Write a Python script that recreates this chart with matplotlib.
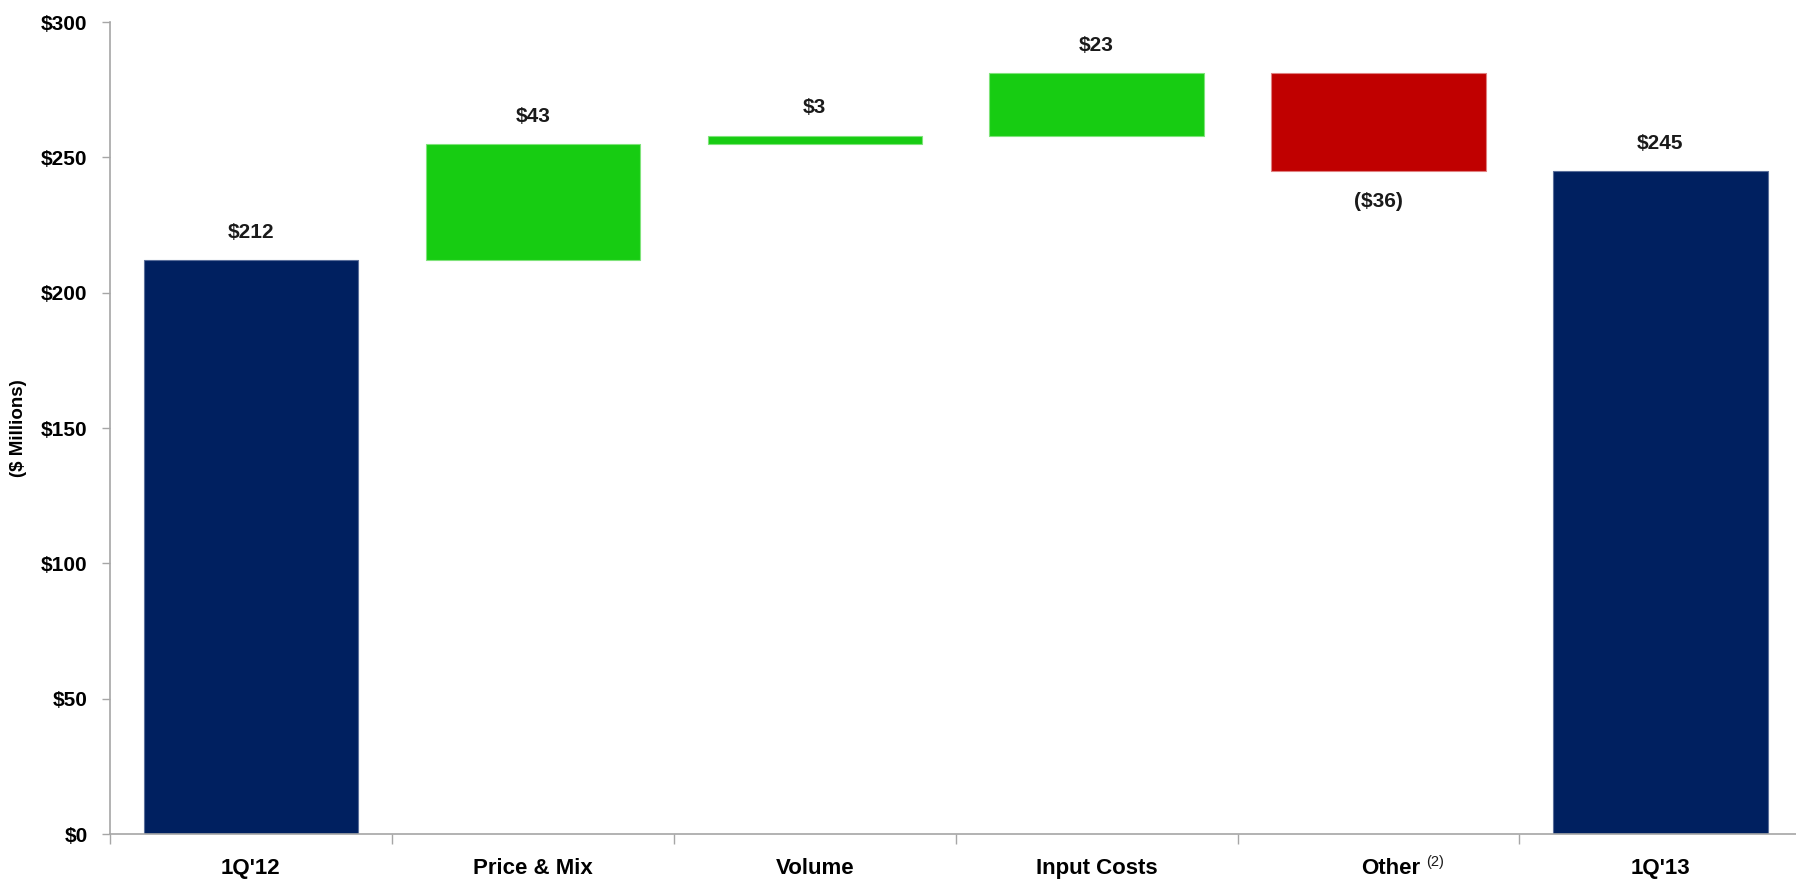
import matplotlib
matplotlib.use('Agg')
import numpy as np
import matplotlib.pyplot as plt
from matplotlib import font_manager
from matplotlib.transforms import ScaledTranslation

# Waterfall data ($ Millions)
categories = ["1Q'12", "Price & Mix", "Volume", "Input Costs", "Other", "1Q'13"]
changes = [212, 43, 3, 23, -36, 245]
kinds = ['total', 'delta', 'delta', 'delta', 'delta', 'total']
value_labels = ['$212', '$43', '$3', '$23', '($36)', '$245']
yticks = [0, 50, 100, 150, 200, 250, 300]
ytick_labels = ['$0', '$50', '$100', '$150', '$200', '$250', '$300']

navy = '#002060'
green = '#17CC12'
red = '#C00000'
axis_gray = '#A6A6A6'

installed = {f.name for f in font_manager.fontManager.ttflist}
fams = [f for f in ['Liberation Sans Narrow', 'Liberation Sans', 'DejaVu Sans'] if f in installed]
plt.rcParams['font.family'] = fams
plt.rcParams['font.weight'] = 'bold'

# bottoms / heights for the floating bars
bottoms, heights, colors = [], [], []
running = 0
for val, kind in zip(changes, kinds):
    if kind == 'total':
        bottoms.append(0)
        heights.append(val)
        colors.append(navy)
        running = val
    else:
        start = running
        running = running + val
        bottoms.append(min(start, running))
        heights.append(abs(val))
        colors.append(green if val >= 0 else red)

fig = plt.figure(figsize=(17.96, 8.82), dpi=100)
ax = fig.add_axes([0.0612, 0.0544, 0.9418, 0.9206])

x = np.arange(len(categories))
edge = ['#5A6E9A' if c == navy else ('#7FE37A' if c == green else '#E08080') for c in colors]
ax.bar(x, heights, bottom=bottoms, width=0.76, color=colors, edgecolor=edge, linewidth=0.8)

# value labels
for i, (b, h, lab) in enumerate(zip(bottoms, heights, value_labels)):
    if changes[i] < 0:
        ax.annotate(lab, xy=(i, b), xytext=(0, -22), textcoords='offset points',
                    ha='center', va='center', fontsize=15, fontweight='bold', color='#1a1a1a')
    else:
        ax.annotate(lab, xy=(i, b + h), xytext=(0, 20), textcoords='offset points',
                    ha='center', va='center', fontsize=15, fontweight='bold', color='#1a1a1a')

ax.set_xlim(-0.5, len(categories) - 0.5)
ax.set_ylim(0, 300)

ax.set_yticks(yticks)
ax.set_yticklabels(ytick_labels, fontsize=15, fontweight='bold')
ax.tick_params(axis='y', length=6, width=1, color=axis_gray, pad=10)

ax.set_xticks(x)
ax.set_xticklabels(categories, fontsize=16, fontweight='bold')
ax.tick_params(axis='x', which='major', length=0, pad=17)
ax.set_xticks(np.arange(-0.5, len(categories)), minor=True)
ax.tick_params(axis='x', which='minor', length=7, width=1, color=axis_gray)

# shift "Other" label a little and add footnote marker
lbl = ax.get_xticklabels()[4]
lbl.set_transform(lbl.get_transform() + ScaledTranslation(0.12, 0, fig.dpi_scale_trans))
ax.annotate('(2)', xy=(4, 0), xycoords=('data', 'axes fraction'), xytext=(34, -20),
            textcoords='offset points', ha='left', va='center', fontsize=10.5,
            fontweight='normal', color='#1a1a1a')

ax.set_ylabel('($ Millions)', fontsize=13.5, fontweight='bold')
ax.yaxis.set_label_coords(-0.049, 0.5)

for s in ['top', 'right']:
    ax.spines[s].set_visible(False)
for s in ['left', 'bottom']:
    ax.spines[s].set_color(axis_gray)
    ax.spines[s].set_linewidth(1.2)

plt.savefig('out.png', dpi=100)
plt.close()
